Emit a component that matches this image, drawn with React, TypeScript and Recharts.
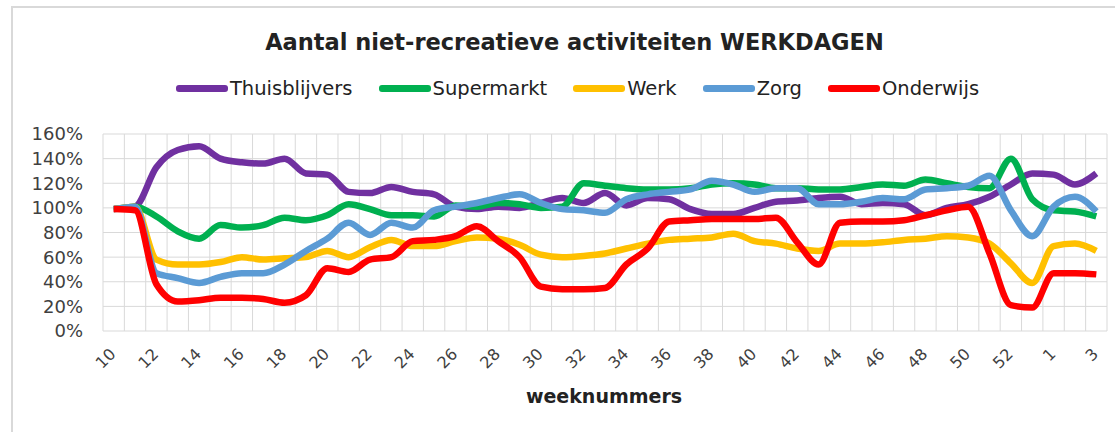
import React from 'react'
import { LineChart, Line, XAxis, YAxis, CartesianGrid } from 'recharts'

const weeks = [
  '10', '11', '12', '13', '14', '15', '16', '17', '18', '19', '20', '21',
  '22', '23', '24', '25', '26', '27', '28', '29', '30', '31', '32', '33',
  '34', '35', '36', '37', '38', '39', '40', '41', '42', '43', '44', '45',
  '46', '47', '48', '49', '50', '51', '52', '53', '1', '2', '3',
]

const thuisblijvers = [
  99, 101, 133, 147, 150, 140, 137, 136, 140, 128, 127, 113,
  112, 117, 113, 111, 101, 99, 101, 100, 104, 108, 104, 112,
  102, 108, 107, 99, 95, 95, 100, 105, 106, 108, 109, 103,
  104, 103, 94, 100, 103, 109, 119, 128, 127, 119, 128,
]
const supermarkt = [
  99, 101, 93, 81, 75, 86, 84, 86, 92, 90, 94, 103,
  99, 94, 94, 93, 102, 101, 104, 103, 100, 101, 120, 118,
  116, 115, 115, 116, 119, 120, 119, 116, 116, 115, 115, 117,
  119, 118, 123, 120, 117, 116, 140, 107, 98, 97, 93,
]
const werk = [
  99, 101, 58, 54, 54, 56, 60, 58, 59, 60, 65, 60,
  68, 74, 69, 69, 73, 76, 75, 70, 62, 60, 61, 63,
  67, 71, 74, 75, 76, 79, 73, 71, 67, 65, 71, 71,
  72, 74, 75, 77, 76, 71, 55, 39, 69, 71, 65,
]
const zorg = [
  99, 101, 47, 43, 39, 44, 47, 47, 54, 65, 75, 88,
  78, 88, 84, 98, 101, 104, 108, 111, 104, 99, 98, 96,
  107, 111, 113, 115, 122, 119, 113, 116, 116, 103, 103, 105,
  108, 107, 115, 116, 118, 126, 98, 77, 101, 109, 97,
]
const onderwijs = [
  99, 98, 38, 24, 25, 27, 27, 26, 23, 29, 51, 48,
  58, 60, 73, 74, 77, 85, 73, 60, 36, 34, 34, 35,
  54, 67, 89, 90, 91, 91, 91, 92, 72, 54, 88, 89,
  89, 90, 94, 98, 101, 63, 21, 19, 47, 47, 46,
]

const yTicks = [0, 20, 40, 60, 80, 100, 120, 140, 160]

const series = [
  { key: 'thuisblijvers', name: 'Thuisblijvers', color: '#7030a0', values: thuisblijvers },
  { key: 'supermarkt', name: 'Supermarkt', color: '#00b050', values: supermarkt },
  { key: 'werk', name: 'Werk', color: '#ffc000', values: werk },
  { key: 'zorg', name: 'Zorg', color: '#5b9bd5', values: zorg },
  { key: 'onderwijs', name: 'Onderwijs', color: '#ff0000', values: onderwijs },
]

const data = weeks.map((week, i) => {
  const row: Record<string, string | number> = { week }
  for (const s of series) row[s.key] = s.values[i]
  return row
})

const FONT = '"DejaVu Sans", Verdana, sans-serif'
const PLOT_W = 1115 - 103 - 8
const HALF_BAND = PLOT_W / weeks.length / 2

function WeekTick({ x, y, payload }: { x?: number; y?: number; payload?: { value: string } }) {
  const ax = (x ?? 0) + 3
  const ay = (y ?? 0) + 24
  return (
    <text
      x={ax}
      y={ay}
      transform={`rotate(-45, ${ax}, ${ay})`}
      textAnchor="end"
      fontSize={16}
      fontFamily={FONT}
      fill="#404040"
    >
      {payload?.value}
    </text>
  )
}

export default function App() {
  return (
    <div style={{ position: 'absolute', left: 0, top: 0, width: 1115, height: 432, overflow: 'hidden', background: '#fff' }}>
      <div
        style={{
          position: 'absolute', left: 11, top: 6, width: 1200, height: 500,
          borderLeft: '2px solid #d9d9d9', borderTop: '2px solid #d9d9d9',
        }}
      />
      <div
        style={{
          position: 'absolute', left: 0, top: 31, width: 1115, paddingLeft: 34, boxSizing: 'border-box',
          textAlign: 'center', fontFamily: FONT, fontWeight: 'bold', fontSize: 22.5, lineHeight: '22.5px', color: '#222',
        }}
      >
        Aantal niet-recreatieve activiteiten WERKDAGEN
      </div>
      <div
        style={{
          position: 'absolute', left: 0, top: 78.5, width: 1115, paddingLeft: 40, boxSizing: 'border-box',
          display: 'flex', justifyContent: 'center', alignItems: 'center', gap: 26,
          fontFamily: FONT, fontSize: 19.5, lineHeight: '19.5px', color: '#222',
        }}
      >
        {series.map((s) => (
          <div key={s.key} style={{ display: 'flex', alignItems: 'center', gap: 2 }}>
            <span style={{ display: 'inline-block', width: 52, height: 7, borderRadius: 3, background: s.color }} />
            <span>{s.name}</span>
          </div>
        ))}
      </div>
      <div style={{ position: 'absolute', left: 0, top: 0 }}>
        <LineChart width={1115} height={432} data={data} margin={{ top: 134, right: 8, bottom: 0, left: 0 }}>
          <CartesianGrid
            stroke="#d9d9d9"
            verticalCoordinatesGenerator={({ offset }: any) =>
              Array.from({ length: weeks.length + 1 }, (_, i) => offset.left + (i * offset.width) / weeks.length)
            }
          />
          <XAxis
            dataKey="week"
            interval={1}
            height={101}
            padding={{ left: HALF_BAND, right: HALF_BAND }}
            tickLine={false}
            axisLine={false}
            tickSize={0}
            tickMargin={0}
            tick={<WeekTick />}
          />
          <YAxis
            domain={[0, 160]}
            ticks={yTicks}
            interval={0}
            width={103}
            tickLine={false}
            axisLine={false}
            tickSize={0}
            tickMargin={20}
            tickFormatter={(v) => `${v}%`}
            tick={{ fontSize: 18, fontFamily: FONT, fill: '#404040' }}
          />
          {series.map((s) => (
            <Line
              key={s.key}
              dataKey={s.key}
              name={s.name}
              type="monotone"
              stroke={s.color}
              strokeWidth={6.5}
              dot={false}
              isAnimationActive={false}
            />
          ))}
        </LineChart>
      </div>
      <div
        style={{
          position: 'absolute', left: 0, top: 387, width: 1115, paddingLeft: 93, boxSizing: 'border-box',
          textAlign: 'center', fontFamily: FONT, fontWeight: 'bold', fontSize: 19, lineHeight: '19px', color: '#222',
        }}
      >
        weeknummers
      </div>
    </div>
  )
}
